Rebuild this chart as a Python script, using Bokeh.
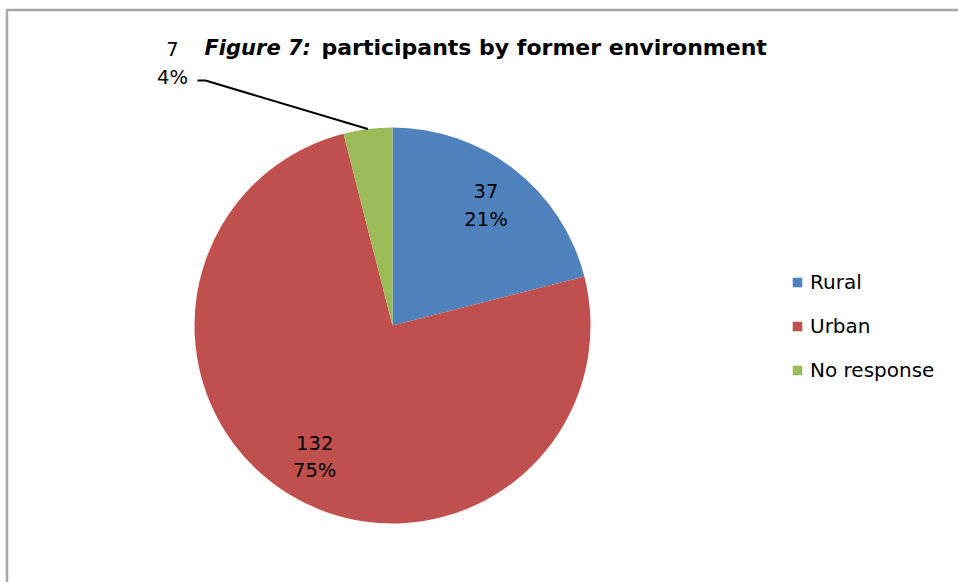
import math
from bokeh.plotting import figure
from bokeh.models import Range1d, ColumnDataSource, Legend, LegendItem
from bokeh.core.properties import value
from bokeh.embed import file_html
from bokeh.resources import INLINE

categories = ["Rural", "Urban", "No response"]
counts = [37, 132, 7]
colors = ["#4F81BD", "#C0504D", "#9BBB59"]

FONT = "DejaVu Sans"
W, H = 958, 582
total = sum(counts)
percents = [round(c / total * 100) for c in counts]

# pie geometry (pixel-like coordinates, y up)
cx, cy, R = 392, 257, 198

starts, ends, mids = [], [], []
cum = 0.0
for c in counts:
    a0 = math.pi / 2 - cum / total * 2 * math.pi
    cum += c
    a1 = math.pi / 2 - cum / total * 2 * math.pi
    starts.append(a0)
    ends.append(a1)
    mids.append((a0 + a1) / 2)

p = figure(width=W, height=H, output_backend="svg", toolbar_location=None,
           x_range=Range1d(0, W), y_range=Range1d(0, H), min_border=0)
p.axis.visible = False
p.grid.visible = False
p.outline_line_color = None
p.background_fill_color = "white"
p.border_fill_color = "white"

# chart-area border (left and top visible)
p.line(x=[6.5, 6.5, W], y=[0, H - 9.5, H - 9.5], line_color="#A6A6A6", line_width=2.5)

src = ColumnDataSource(dict(x=[cx] * 3, y=[cy] * 3, start=starts, end=ends,
                            color=colors, cat=categories))
r = p.wedge(x="x", y="y", radius=R, radius_units="screen", start_angle="start",
            end_angle="end", direction="clock", fill_color="color",
            line_color=None, source=src)

# inside labels
for i in (0, 1):
    rr = 0.77 * R
    lx = cx + rr * math.cos(mids[i])
    ly = cy + rr * math.sin(mids[i])
    p.text(x=[lx], y=[ly + 14], text=[str(counts[i])], text_align="center",
           text_baseline="middle", text_font=value(FONT), text_font_size="19.5px",
           text_color="black")
    p.text(x=[lx], y=[ly - 14], text=[f"{percents[i]}%"], text_align="center",
           text_baseline="middle", text_font=value(FONT), text_font_size="19.5px",
           text_color="black")

# outside label for small slice with leader line
ex = cx + R * math.cos(mids[2])
ey = cy + R * math.sin(mids[2])
gx, gy = cx - 220, cy + 262
p.text(x=[gx], y=[gy + 15], text=[str(counts[2])], text_align="center",
       text_baseline="middle", text_font=value(FONT), text_font_size="19.5px",
       text_color="black")
p.text(x=[gx], y=[gy - 14], text=[f"{percents[2]}%"], text_align="center",
       text_baseline="middle", text_font=value(FONT), text_font_size="19.5px",
       text_color="black")
p.line(x=[gx + 25, gx + 33, ex], y=[gy - 17, gy - 17, ey], line_color="black",
       line_width=2)

# title
p.text(x=[204], y=[535], text=["Figure 7:"], text_align="left",
       text_baseline="middle", text_font=value(FONT), text_font_size="21px",
       text_font_style="bold italic", text_color="black")
p.text(x=[321], y=[535], text=["participants by former environment"],
       text_align="left", text_baseline="middle", text_font=value(FONT),
       text_font_size="22px", text_font_style="bold", text_color="black")

legend = Legend(items=[LegendItem(label=categories[i], renderers=[r], index=i)
                       for i in range(3)],
                location=(791, 200), orientation="vertical",
                glyph_width=12, glyph_height=12, label_height=20,
                label_standoff=7, spacing=20, padding=0, margin=0,
                border_line_color=None, background_fill_alpha=0,
                label_text_font=FONT, label_text_font_size="20px",
                label_text_color="black")
p.add_layout(legend, "center")

open("out.html", "w").write(file_html(p, INLINE))
